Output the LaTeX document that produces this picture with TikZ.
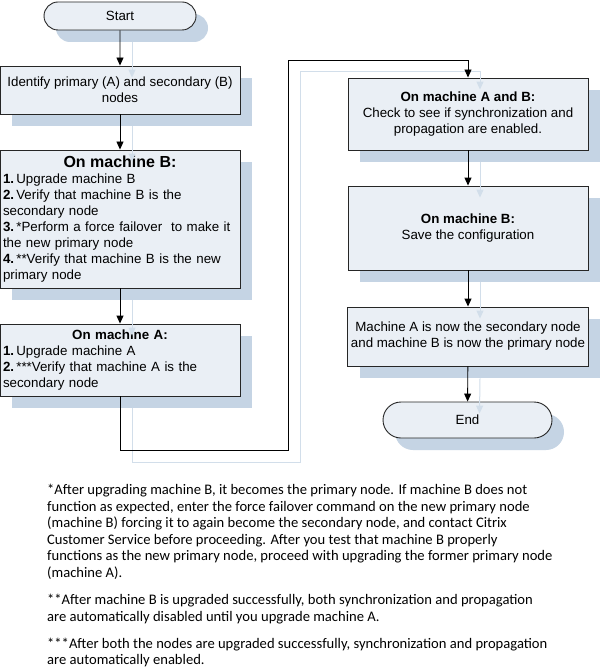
\documentclass[tikz,border=0pt]{standalone}
\usepackage{fontspec}
\setmainfont{Liberation Sans}
\newfontfamily\calib{Carlito}
\usetikzlibrary{arrows.meta,shapes.misc,shadows}
\definecolor{boxfill}{HTML}{EAEFF5}
\definecolor{shadowc}{HTML}{C5D4E4}
\definecolor{sline}{HTML}{D2DEEA}
\definecolor{bordc}{HTML}{262626}
\newcommand\dsz{\fontsize{13.33}{16}\selectfont}
\begin{document}
\begin{tikzpicture}[x=1pt,y=-1pt,
  every node/.style={font=\dsz},
  boxshadow/.style={general shadow={fill=shadowc, draw=none, shadow xshift=12pt, shadow yshift=-12pt}},
  box/.style={rectangle, draw=bordc, line width=0.9pt, fill=boxfill, inner sep=0pt, inner xsep=3pt, minimum width=240pt, boxshadow},
  pill/.style={rounded rectangle, draw=bordc, line width=0.9pt, fill=boxfill, inner sep=0pt, boxshadow},
  arr/.style={draw=black, line width=0.9pt, -{Triangle[length=8pt,width=7pt]}},
  sarr/.style={draw=sline, line width=1pt, -{Triangle[length=8pt,width=7pt]}},
]
\useasboundingbox[fill=white] (0,0) rectangle (600,671);

% left column
\node[pill, minimum width=152pt, minimum height=28pt] (start) at (120,16) {Start};
\node[box, minimum height=48pt, align=center] (ident) at (120,90)
  {Identify primary (A) and secondary (B)\\nodes};
\node[box, minimum height=138pt, text width=234pt, align=left] (mB) at (120,219)
  {{\centering\fontsize{16}{18}\selectfont\bfseries On machine B:\par}
   \textbf{1.}\,Upgrade machine B\\
   \textbf{2.}\,Verify that machine B is the\\
   secondary node\\
   \textbf{3.}\,*Perform a force failover\ \ to make it\\
   the new primary node\\
   \textbf{4.}\,**Verify that machine B is the new\\
   primary node};
\node[box, minimum height=72pt, text width=234pt, align=left] (mA) at (120,360)
  {{\centering\bfseries On machine A:\par}
   \textbf{1.}\,Upgrade machine A\\
   \textbf{2.}\,***Verify that machine A is the\\
   secondary node};

% right column
\node[box, minimum height=72pt, align=center] (r1) at (468,114)
  {\textbf{On machine A and B:}\\Check to see if synchronization and\\propagation are enabled.};
\node[box, minimum height=84pt, align=center] (r2) at (468,228)
  {\textbf{On machine B:}\\Save the configuration};
\node[box, minimum height=59pt, align=center] (r3) at (468,336.5)
  {Machine A is now the secondary node\\and machine B is now the primary node};
\node[pill, minimum width=169pt, minimum height=36pt] (end) at (467.5,420) {End};

% loop corners
\coordinate (lb) at (288,450);
\coordinate (lt) at (288,60);

% shadow connectors
\draw[sarr] ([shift={(12,12)}]start.south) -- ([shift={(12,12)}]ident.north);
\draw[sarr] ([shift={(12,12)}]ident.south) -- ([shift={(12,12)}]mB.north);
\draw[sarr] ([shift={(12,12)}]mB.south) -- ([shift={(12,12)}]mA.north);
\draw[sarr] ([shift={(12,12)}]mA.south) |- ([shift={(12,12)}]lb) -- ([shift={(12,12)}]lt) -| ([shift={(12,12)}]r1.north);
\draw[sarr] ([shift={(12,12)}]r1.south) -- ([shift={(12,12)}]r2.north);
\draw[sarr] ([shift={(12,12)}]r2.south) -- ([shift={(12,12)}]r3.north);
\draw[sarr] ([shift={(12,12)}]r3.south) -- ([shift={(12,12)}]end.north);

% main connectors
\draw[arr] (start) -- (ident);
\draw[arr] (ident) -- (mB);
\draw[arr] (mB) -- (mA);
\draw[arr] (mA.south) |- (lb) -- (lt) -| (r1.north);
\draw[arr] (r1) -- (r2);
\draw[arr] (r2) -- (r3);
\draw[arr] (r3) -- (end);

% footnotes
\node[anchor=north west, inner sep=0pt, align=left, font=\calib\fontsize{14.6}{16.6}\selectfont] (notes) at (47,484)
  {*After upgrading machine B, it becomes the primary node. If machine B does not\\
   function as expected, enter the force failover command on the new primary node\\
   (machine B) forcing it to again become the secondary node, and contact Citrix\\
   Customer Service before proceeding. After you test that machine B properly\\
   functions as the new primary node, proceed with upgrading the former primary node\\
   (machine A).\\[10.4pt]
   **After machine B is upgraded successfully, both synchronization and propagation\\
   are automatically disabled until you upgrade machine A.\\[10.4pt]
   ***After both the nodes are upgraded successfully, synchronization and propagation\\
   are automatically enabled.};
\end{tikzpicture}
\end{document}
